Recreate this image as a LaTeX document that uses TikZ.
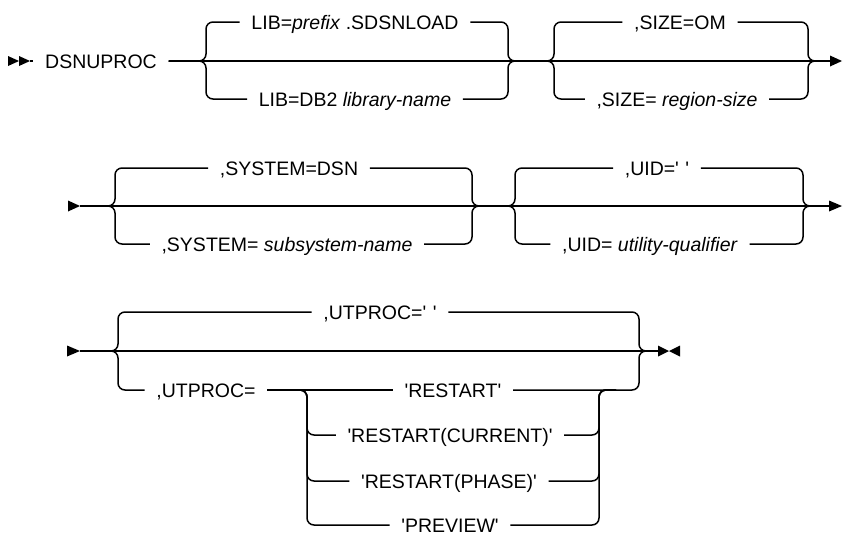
\documentclass[tikz,border=0pt]{standalone}
\usepackage{fontspec}
\setmainfont{Liberation Sans}
\newcommand\sq{\textquotesingle}
\begin{document}
\begin{tikzpicture}[x=1pt,y=-1pt,line width=1.5pt,
  rr/.style={rounded corners=7pt},
  lbl/.style={font=\fontsize{19.5}{22}\selectfont,text height=14pt,text depth=0pt,inner xsep=11pt,inner ysep=0pt,anchor=center},
  tipr/.style={fill=black,draw=none}]
\useasboundingbox (0,0) rectangle (843,536);
% ---------------- row 1 ----------------
\coordinate (a1) at (30,61);
\fill[tipr] (8,56) -- (19,61) -- (8,66) -- cycle;
\fill[tipr] (19,56) -- (30,61) -- (19,66) -- cycle;
\node[lbl] (ds) at (101,61) {DSNUPROC};
\draw (a1) -- (ds.west);
\coordinate (g1l) at (206,61);
\coordinate (g1r) at (508,61);
\coordinate (g2l) at (554,61);
\coordinate (g2r) at (808,61);
\coordinate (e1) at (832,61);
\node[lbl] (lib1) at (355,22) {LIB=\textit{prefix} .SDSNLOAD};
\node[lbl] (lib2) at (355,99) {LIB=DB2 \textit{library-name}};
\node[lbl] (sz1) at (680,22) {,SIZE=OM};
\node[lbl] (sz2) at (677,99) {,SIZE= \textit{region-size}};
\draw (ds.east) -- (e1);
\draw[rr] (ds.east) -- (g1l) |- (lib1.west);
\draw[rr] (ds.east) -- (g1l) |- (lib2.west);
\draw[rr] (lib1.east) -| (g1r) -- (g2l);
\draw[rr] (lib2.east) -| (g1r) -- (g2l);
\draw[rr] (g1r) -- (g2l) |- (sz1.west);
\draw[rr] (g1r) -- (g2l) |- (sz2.west);
\draw[rr] (sz1.east) -| (g2r) -- (e1);
\draw[rr] (sz2.east) -| (g2r) -- (e1);
\fill[tipr] (830,55.5) -- (842,61) -- (830,66.5) -- cycle;
% ---------------- row 2 ----------------
\coordinate (a2) at (80,206);
\fill[tipr] (68,200.5) -- (80,206) -- (68,211.5) -- cycle;
\coordinate (g3l) at (115,206);
\coordinate (g3r) at (472,206);
\coordinate (g4l) at (515,206);
\coordinate (g4r) at (803,206);
\coordinate (e2) at (830,206);
\node[lbl] (sy1) at (289,168) {,SYSTEM=DSN};
\node[lbl] (sy2) at (287,244) {,SYSTEM= \textit{subsystem-name}};
\node[lbl] (ui1) at (657,168) {,UID=\sq\,\,\sq};
\node[lbl] (ui2) at (650,244) {,UID= \textit{utility-qualifier}};
\draw (a2) -- (e2);
\draw[rr] (a2) -- (g3l) |- (sy1.west);
\draw[rr] (a2) -- (g3l) |- (sy2.west);
\draw[rr] (sy1.east) -| (g3r) -- (g4l);
\draw[rr] (sy2.east) -| (g3r) -- (g4l);
\draw[rr] (g3r) -- (g4l) |- (ui1.west);
\draw[rr] (g3r) -- (g4l) |- (ui2.west);
\draw[rr] (ui1.east) -| (g4r) -- (e2);
\draw[rr] (ui2.east) -| (g4r) -- (e2);
\fill[tipr] (829,200.5) -- (842,206) -- (829,211.5) -- cycle;
% ---------------- row 3 ----------------
\coordinate (a3) at (80,351);
\fill[tipr] (67,345.5) -- (80,351) -- (67,356.5) -- cycle;
\coordinate (g5l) at (118,351);
\coordinate (g5r) at (639,351);
\coordinate (e3) at (658,351);
\node[lbl] (ut0) at (380,312) {,UTPROC=\sq\,\,\sq};
\node[lbl] (ut1) at (206,390) {,UTPROC=};
\node[lbl] (r1) at (453,390) {\sq RESTART\sq};
\node[lbl] (r2) at (450,435) {\sq RESTART(CURRENT)\sq};
\node[lbl] (r3) at (449,481) {\sq RESTART(PHASE)\sq};
\node[lbl] (r4) at (450,525) {\sq PREVIEW\sq};
\coordinate (sl) at (307,390);
\coordinate (sr) at (599,390);
\coordinate (sj) at (616,390);
\draw (a3) -- (e3);
\draw[rr] (a3) -- (g5l) |- (ut0.west);
\draw[rr] (a3) -- (g5l) |- (ut1.west);
\draw[rr] (ut0.east) -| (g5r) -- (e3);
\draw (ut1.east) -- (r1.west);
\draw[rr] (ut1.east) -- (sl) |- (r2.west);
\draw[rr] (ut1.east) -- (sl) |- (r3.west);
\draw[rr] (ut1.east) -- (sl) |- (r4.west);
\draw[rr] (r1.east) -| (g5r) -- (e3);
\draw[rr] (r2.east) -| (sr) -- (sj);
\draw[rr] (r3.east) -| (sr) -- (sj);
\draw[rr] (r4.east) -| (sr) -- (sj);
\fill[tipr] (658,345.5) -- (669,351) -- (658,356.5) -- cycle;
\fill[tipr] (680,345.5) -- (669,351) -- (680,356.5) -- cycle;
\end{tikzpicture}
\end{document}
